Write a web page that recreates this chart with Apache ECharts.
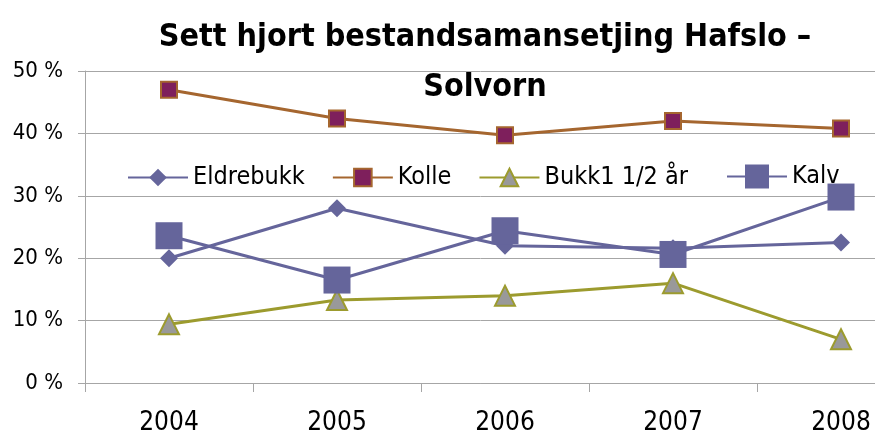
<!DOCTYPE html>
<html>
<head>
<meta charset="utf-8">
<script src="https://cdn.jsdelivr.net/npm/echarts@6/dist/echarts.min.js"></script>
<style>
  html, body { margin: 0; padding: 0; background: #fff; }
  #chart { width: 875px; height: 431px; }
</style>
</head>
<body>
<div id="chart"></div>
<script>
var years = ['2004', '2005', '2006', '2007', '2008'];
var eldrebukk = [20.0, 28.0, 22.0, 21.6, 22.5];
var kolle = [47.0, 42.4, 39.7, 42.0, 40.8];
var bukk = [9.4, 13.3, 14.0, 16.0, 7.0];
var kalv = [23.6, 16.5, 24.4, 20.6, 29.8];

var font = '"DejaVu Sans Condensed", "Liberation Sans", sans-serif';
var chart = echarts.init(document.getElementById('chart'));

var legendText = { fontFamily: font, fontSize: 25, color: '#000' };

var option = {
  animation: false,
  backgroundColor: '#fff',
  title: {
    text: 'Sett hjort bestandsamansetjing Hafslo –\nSolvorn',
    left: 480,
    textAlign: 'center',
    top: 8,
    textStyle: {
      fontFamily: font,
      fontSize: 32,
      fontWeight: 'bold',
      color: '#000',
      lineHeight: 50
    }
  },
  legend: [
    {
      top: 160,
      left: 122,
      itemWidth: 60,
      itemHeight: 22,
      itemGap: 27,
      textStyle: legendText,
      data: ['Eldrebukk', 'Kolle', 'Bukk1 1/2 år']
    },
    {
      top: 159,
      left: 721,
      itemWidth: 60,
      itemHeight: 30,
      textStyle: legendText,
      data: ['Kalv']
    }
  ],
  grid: { left: 85, top: 71, width: 840, height: 312, outerBoundsMode: 'none' },
  xAxis: {
    type: 'category',
    data: years,
    boundaryGap: true,
    axisLine: { lineStyle: { color: '#a6a6a6', width: 1 } },
    axisTick: { show: true, length: 9, lineStyle: { color: '#a6a6a6' } },
    axisLabel: { fontFamily: font, fontSize: 26, color: '#000', margin: 27 }
  },
  yAxis: {
    type: 'value',
    min: 0,
    max: 50,
    interval: 10,
    axisLine: { show: true, lineStyle: { color: '#a6a6a6' } },
    axisTick: { show: true, length: 7, lineStyle: { color: '#a6a6a6' } },
    axisLabel: { formatter: '{value} %', fontFamily: font, fontSize: 22, color: '#000', margin: 22 },
    splitLine: { lineStyle: { color: '#a6a6a6', width: 1 } }
  },
  series: [
    {
      name: 'Eldrebukk', type: 'line', data: eldrebukk,
      symbol: 'diamond', symbolSize: 18,
      lineStyle: { color: '#65659b', width: 3 },
      itemStyle: { color: '#65659b' }
    },
    {
      name: 'Kolle', type: 'line', data: kolle,
      symbol: 'rect', symbolSize: 16,
      lineStyle: { color: '#a5662f', width: 3 },
      itemStyle: { color: '#7e1f5c', borderColor: '#a5662f', borderWidth: 2 }
    },
    {
      name: 'Bukk1 1/2 år', type: 'line', data: bukk,
      symbol: 'triangle', symbolSize: 20,
      lineStyle: { color: '#9c9b2e', width: 3 },
      itemStyle: { color: '#999999', borderColor: '#9c9b2e', borderWidth: 2 }
    },
    {
      name: 'Kalv', type: 'line', data: kalv,
      symbol: 'rect', symbolSize: 27,
      lineStyle: { color: '#65659b', width: 3 },
      itemStyle: { color: '#65659b' }
    }
  ]
};

chart.setOption(option);
</script>
</body>
</html>
